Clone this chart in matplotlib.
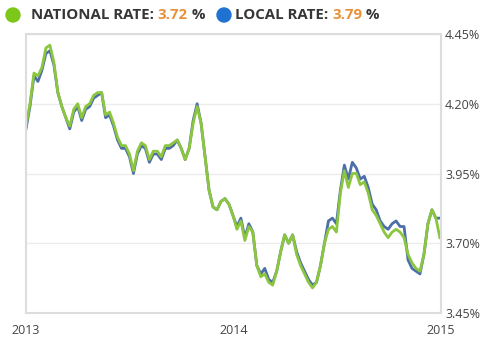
"""Weekly national vs local mortgage rate, 2013-2014"""

import numpy as np
import pandas as pd
import matplotlib
matplotlib.use("Agg")
import matplotlib.pyplot as plt
from matplotlib.patches import Ellipse

# weekly readings, first week of 2013 through end of 2014
national = [
    4.12, 4.20, 4.31, 4.30, 4.33, 4.40, 4.41, 4.35, 4.24, 4.19,
    4.15, 4.12, 4.18, 4.20, 4.15, 4.19, 4.20, 4.23, 4.24, 4.24,
    4.16, 4.17, 4.13, 4.08, 4.05, 4.05, 4.02, 3.96, 4.03, 4.06,
    4.05, 4.00, 4.03, 4.03, 4.01, 4.05, 4.05, 4.06, 4.07, 4.04,
    4.00, 4.04, 4.13, 4.19, 4.13, 4.01, 3.89, 3.83, 3.82, 3.85,
    3.86, 3.84, 3.80, 3.75, 3.78, 3.71, 3.76, 3.74, 3.62, 3.58,
    3.59, 3.56, 3.55, 3.60, 3.67, 3.73, 3.70, 3.73, 3.66, 3.62,
    3.59, 3.56, 3.54, 3.56, 3.62, 3.70, 3.75, 3.76, 3.74, 3.88,
    3.96, 3.90, 3.95, 3.95, 3.91, 3.92, 3.88, 3.82, 3.80, 3.77,
    3.74, 3.72, 3.74, 3.75, 3.74, 3.72, 3.66, 3.63, 3.61, 3.60,
    3.66, 3.77, 3.82, 3.79, 3.72,
]
local = [
    4.11, 4.19, 4.30, 4.28, 4.32, 4.38, 4.39, 4.34, 4.24, 4.19,
    4.15, 4.11, 4.17, 4.19, 4.14, 4.18, 4.19, 4.22, 4.23, 4.24,
    4.15, 4.16, 4.12, 4.07, 4.04, 4.04, 4.01, 3.95, 4.02, 4.05,
    4.04, 3.99, 4.02, 4.02, 4.00, 4.04, 4.04, 4.05, 4.07, 4.04,
    4.00, 4.04, 4.14, 4.20, 4.13, 4.01, 3.89, 3.83, 3.82, 3.85,
    3.86, 3.84, 3.80, 3.76, 3.79, 3.72, 3.77, 3.74, 3.62, 3.59,
    3.61, 3.57, 3.56, 3.60, 3.67, 3.73, 3.70, 3.73, 3.67, 3.63,
    3.60, 3.57, 3.55, 3.56, 3.62, 3.70, 3.78, 3.79, 3.77, 3.89,
    3.98, 3.93, 3.99, 3.97, 3.93, 3.94, 3.90, 3.84, 3.82, 3.78,
    3.76, 3.75, 3.77, 3.78, 3.76, 3.76, 3.64, 3.61, 3.60, 3.59,
    3.66, 3.77, 3.82, 3.79, 3.79,
]
weeks = pd.date_range("2013-01-01", periods=len(national), freq="7D")

y_ticks = [3.45, 3.70, 3.95, 4.20, 4.45]
x_ticks = pd.to_datetime(["2013-01-01", "2014-01-01", "2015-01-01"])
x_labels = ["2013", "2014", "2015"]

GREEN = "#8cc63f"
BLUE = "#4d6fa8"
DOT_GREEN = "#7cc719"
DOT_BLUE = "#1f72d1"
ORANGE = "#e8913a"
TEXT = "#363636"

W, H = 494, 353

plt.rcParams["font.family"] = ["Open Sans", "DejaVu Sans"]

fig = plt.figure(figsize=(W / 100, H / 100), dpi=100)
ax = fig.add_axes([26 / W, 1 - 313 / H, 415 / W, 279 / H])

ax.plot(weeks, local, color=BLUE, lw=2.0, solid_joinstyle="round")
ax.plot(weeks, national, color=GREEN, lw=2.0, solid_joinstyle="round")

ax.set_xlim(x_ticks[0], x_ticks[-1])
ax.set_ylim(3.45, 4.45)

ax.set_yticks(y_ticks)
ax.set_yticklabels([f"{v:.2f}%" for v in y_ticks])
ax.yaxis.tick_right()
ax.set_xticks(x_ticks)
ax.set_xticklabels(x_labels)
ax.tick_params(length=0, labelsize=9, colors="#444444")
ax.tick_params(axis="y", pad=3)
ax.tick_params(axis="x", pad=8)

ax.grid(axis="y", color="#ececec", lw=1)
ax.set_axisbelow(True)
for s in ax.spines.values():
    s.set_color("#dddddd")
    s.set_linewidth(1.5)

# header legend dots (sized in pixels so they stay round)
for cx, col in [(13, DOT_GREEN), (224, DOT_BLUE)]:
    fig.patches.append(Ellipse((cx / W, 1 - 15 / H), 14 / W, 14 / H,
                               transform=fig.transFigure, color=col, zorder=5))

fig.canvas.draw()
renderer = fig.canvas.get_renderer()


def chain(x_px, pieces):
    x = x_px
    for txt, col in pieces:
        t = fig.text(x / W, 1 - 15 / H, txt, color=col, fontsize=10.8,
                     fontweight="bold", va="center", ha="left")
        x += t.get_window_extent(renderer).width


chain(31, [("NATIONAL RATE: ", TEXT), ("3.72", ORANGE), (" %", TEXT)])
chain(235, [("LOCAL RATE: ", TEXT), ("3.79", ORANGE), (" %", TEXT)])

fig.savefig("out.png", dpi=100)
